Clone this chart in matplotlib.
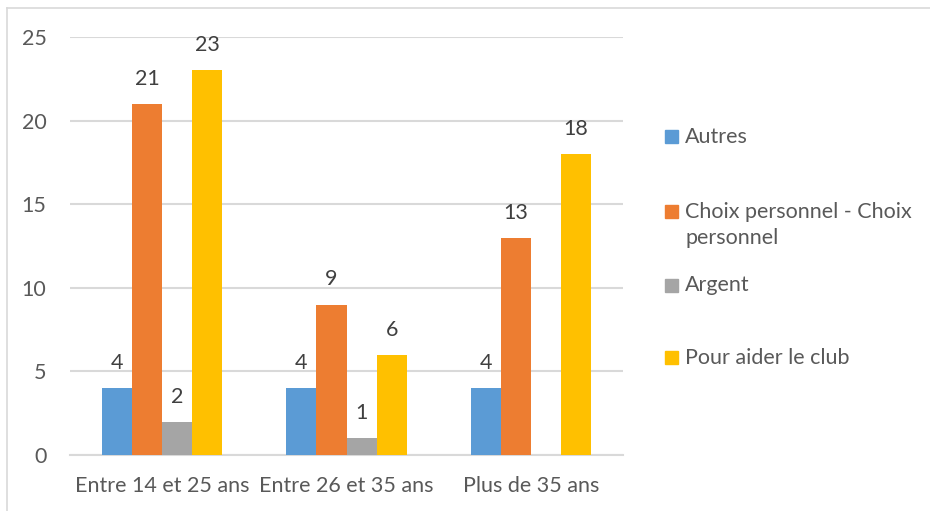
import matplotlib.pyplot as plt
from matplotlib.patches import Rectangle
from matplotlib.lines import Line2D
import numpy as np

plt.rcParams['font.family'] = ['Lato', 'DejaVu Sans']

categories = ["Entre 14 et 25 ans", "Entre 26 et 35 ans", "Plus de 35 ans"]
series_names = ["Autres", "Choix personnel - Choix\npersonnel", "Argent", "Pour aider le club"]
autres = [4, 4, 4]
choix = [21, 9, 13]
argent = [2, 1, 0]
aider = [23, 6, 18]
colors = ["#5B9BD5", "#ED7D31", "#A5A5A5", "#FFC000"]

values = [autres, choix, argent, aider]
text_col = "#595959"
grid_col = "#D9D9D9"
fs = 15.5

fig = plt.figure(figsize=(9.3, 5.11), dpi=100)
ax = fig.add_axes([70 / 930, 1 - 455 / 511, 553 / 930, 418 / 511])

x = np.arange(len(categories))
w = 0.163
for i, vals in enumerate(values):
    pos = x + (i - 1.5) * w
    ax.bar(pos, vals, width=w, color=colors[i], zorder=3)
    for p, v in zip(pos, vals):
        if v == 0:
            continue
        ax.text(p, v + 0.9, str(v), ha="center", va="bottom",
                fontsize=fs, color="#404040")

ax.set_xlim(-0.5, 2.5)
ax.set_ylim(0, 25)
ax.set_yticks([0, 5, 10, 15, 20, 25])
ax.set_xticks(x)
ax.set_xticklabels(categories)
ax.grid(axis="y", color=grid_col, linewidth=1.5, zorder=0)
ax.tick_params(axis="both", length=0, labelsize=fs, labelcolor=text_col)
ax.tick_params(axis="y", pad=17)
ax.tick_params(axis="x", pad=15)
for s in ["top", "right", "left"]:
    ax.spines[s].set_visible(False)
ax.spines["bottom"].set_color(grid_col)
ax.spines["bottom"].set_linewidth(1.5)

# legend drawn by hand, Excel style
leg_y = [137, 212, 285, 358]
for name, c, yy in zip(series_names, colors, leg_y):
    fy = 1 - yy / 511
    fig.patches.append(Rectangle((665 / 930, fy - 6.5 / 511), 13 / 930, 13 / 511,
                                 transform=fig.transFigure, color=c))
    fig.text(685 / 930, fy + 10 / 511, name, ha="left", va="top",
             fontsize=fs, color=text_col, linespacing=1.35)

# outer chart border (left and top visible)
fig.lines.append(Line2D([7 / 930, 7 / 930], [0, 1 - 8 / 511], transform=fig.transFigure,
                        color=grid_col, linewidth=1.2))
fig.lines.append(Line2D([7 / 930, 1], [1 - 8 / 511, 1 - 8 / 511], transform=fig.transFigure,
                        color=grid_col, linewidth=1.2))

fig.savefig("out.png", dpi=100)
